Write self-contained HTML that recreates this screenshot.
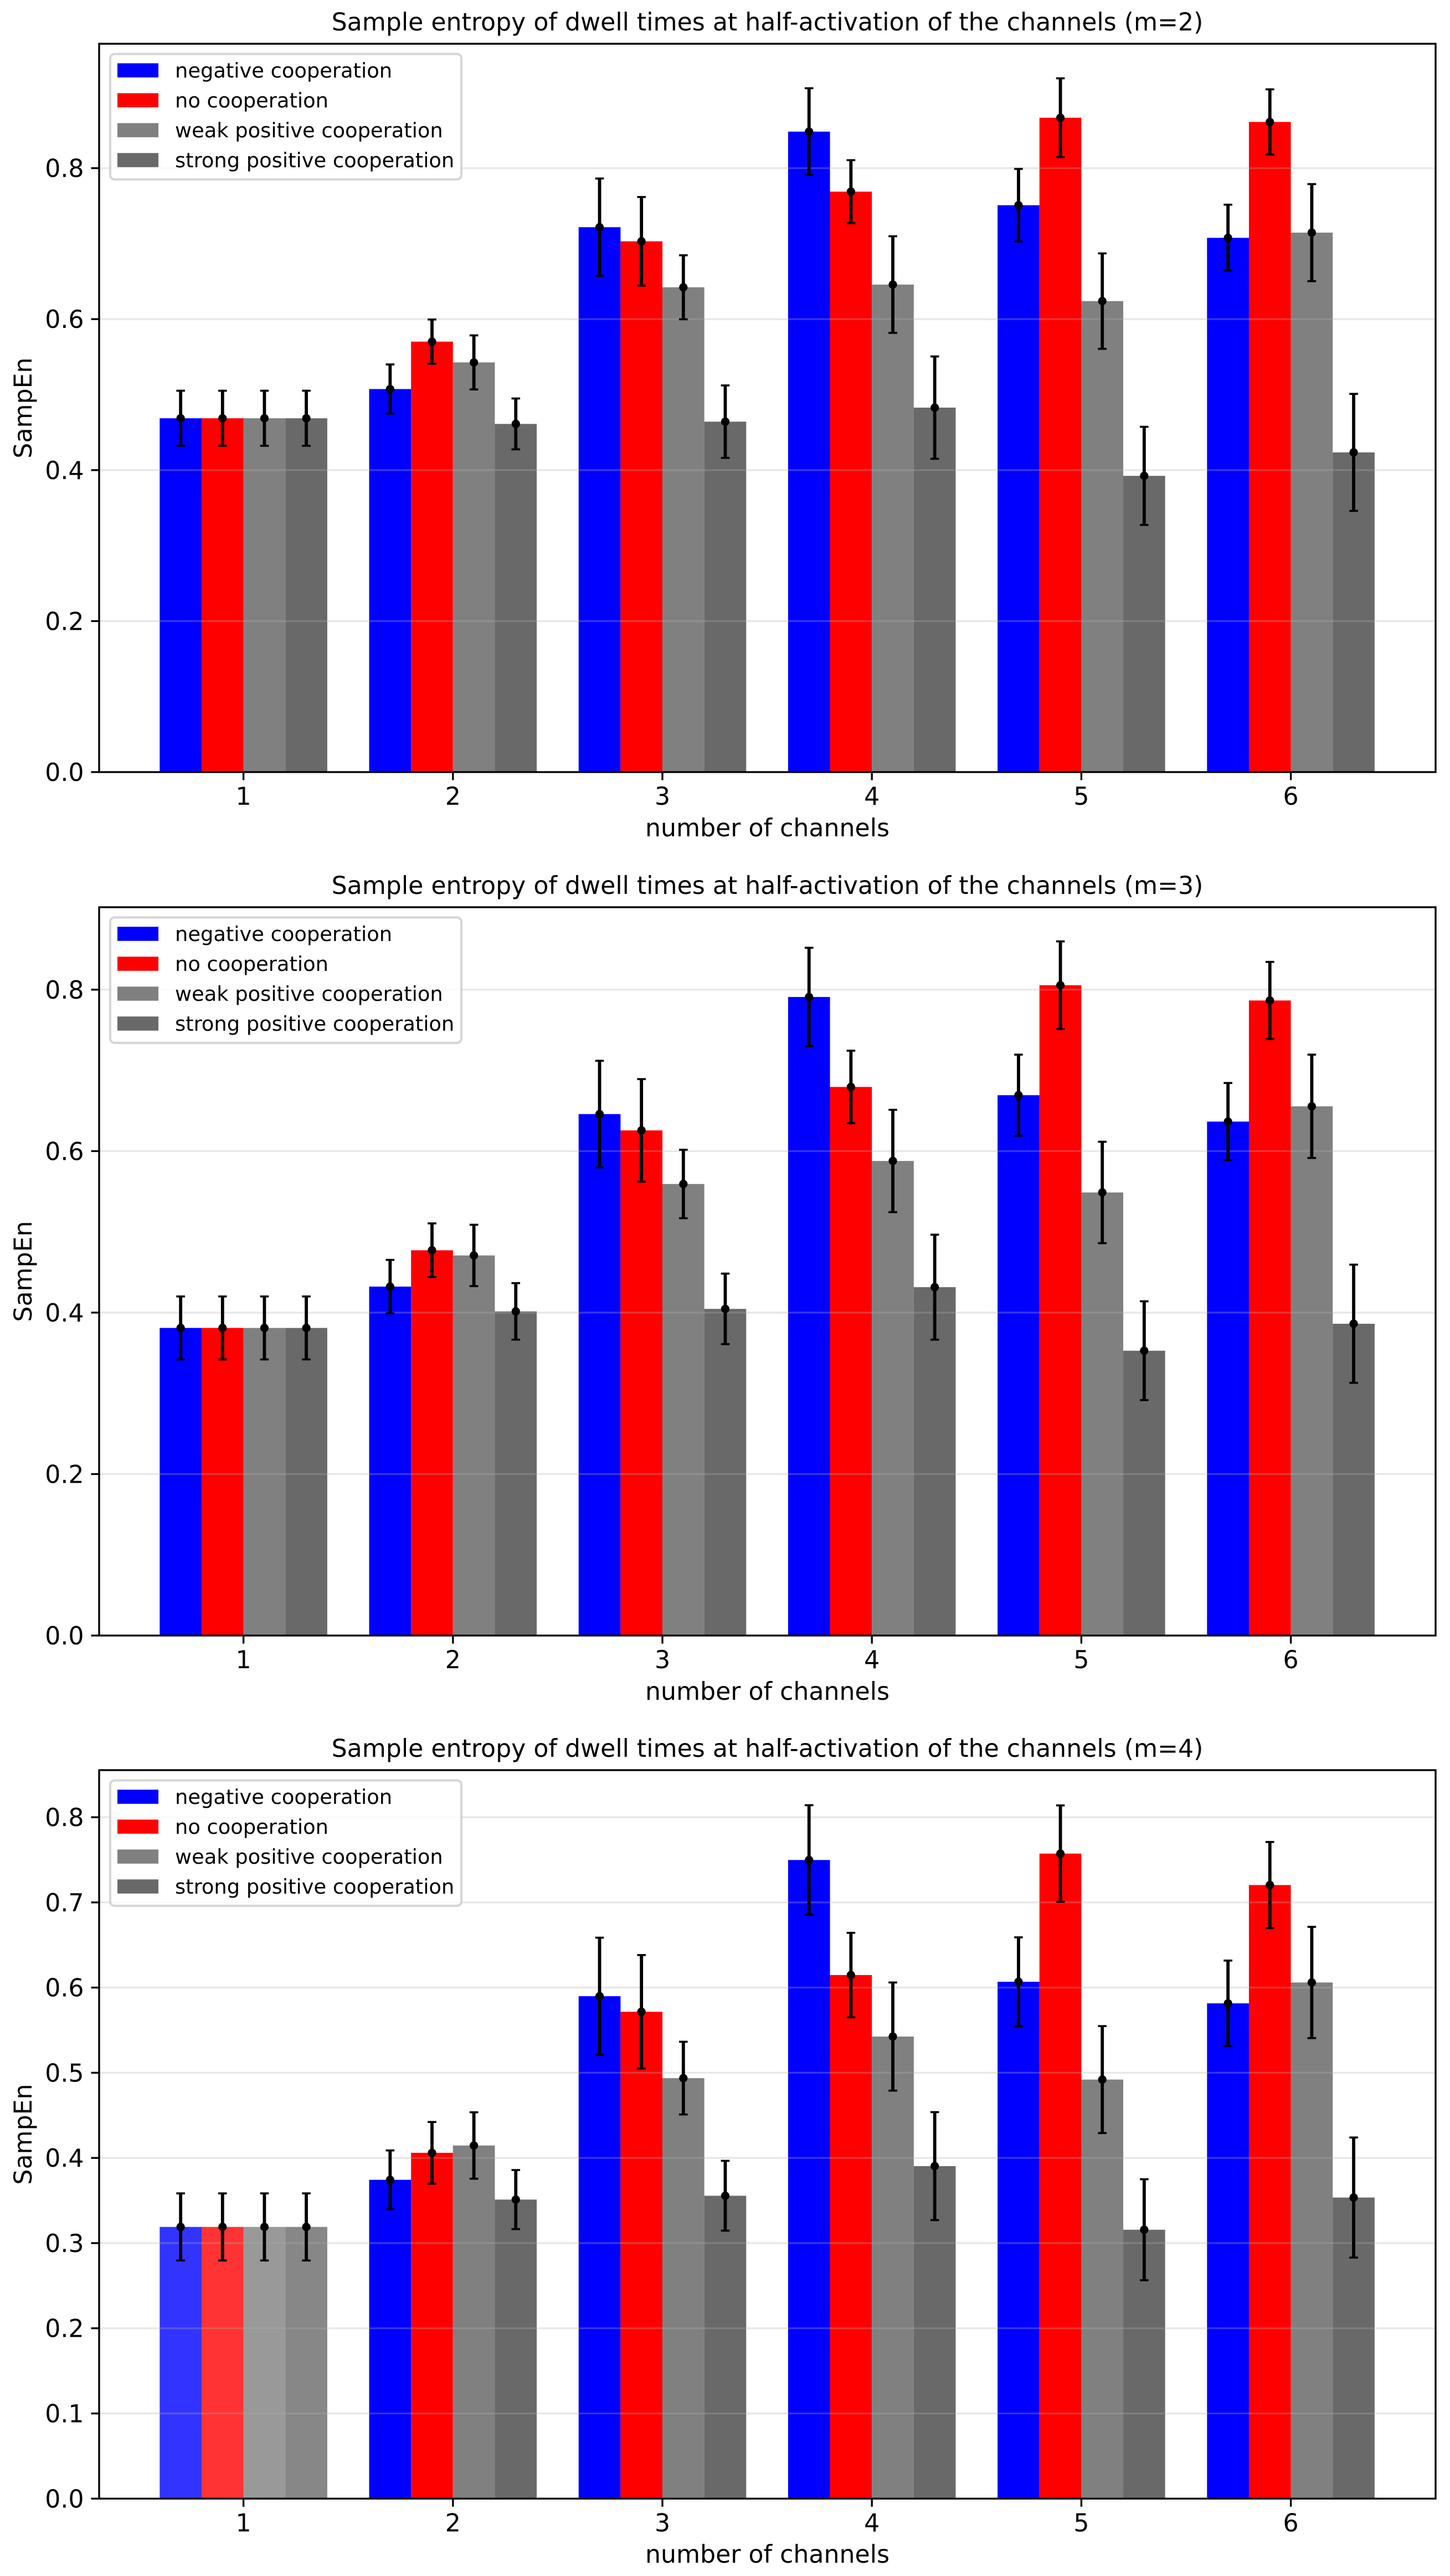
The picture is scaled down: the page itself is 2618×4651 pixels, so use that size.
<!DOCTYPE html>
<html lang="en">
<head>
<meta charset="utf-8">
<title>Sample entropy of dwell times at half-activation of the channels</title>
<style>
html,body{margin:0;padding:0;background:#fff;}
svg{display:block;}
text{font-family:"DejaVu Sans","Liberation Sans",sans-serif;fill:#000;}
.t{font-size:44.2px;}
.l{font-size:36.8px;}
</style>
</head>
<body>
<svg xmlns="http://www.w3.org/2000/svg" width="2618" height="4651" viewBox="0 0 2618 4651">
<rect x="0" y="0" width="2618" height="4651" fill="#fff"/>

<!-- PANEL m=2 -->
<g>
  <g id="marks-m2"></g>
  <rect x="179" y="79" width="2413" height="1315" fill="none" stroke="#000" stroke-width="3.33"/>
  <text class="t" x="1385.5" y="55" text-anchor="middle">Sample entropy of dwell times at half-activation of the channels (m=2)</text>
  <text class="t" x="1385.5" y="1510" text-anchor="middle">number of channels</text>
  <text class="t" transform="translate(57,736.5) rotate(-90)" text-anchor="middle">SampEn</text>
  <g transform="translate(0,79)">
    <rect x="199" y="18.4" width="634" height="226.6" rx="8" fill="#fff" fill-opacity="0.8" stroke="#ccc" stroke-opacity="0.8" stroke-width="4.17"/>
    <rect x="212" y="35.3" width="74" height="25.5" fill="#0000ff"/>
    <text class="l" x="316" y="60.8">negative cooperation</text>
    <rect x="212" y="89.3" width="74" height="25.5" fill="#ff0000"/>
    <text class="l" x="316" y="114.8">no cooperation</text>
    <rect x="212" y="143.3" width="74" height="25.5" fill="#808080"/>
    <text class="l" x="316" y="168.8">weak positive cooperation</text>
    <rect x="212" y="197.3" width="74" height="25.5" fill="#696969"/>
    <text class="l" x="316" y="222.8">strong positive cooperation</text>
  </g>
</g>

<!-- PANEL m=3 -->
<g>
  <g id="marks-m3"></g>
  <rect x="179" y="1638" width="2413" height="1315" fill="none" stroke="#000" stroke-width="3.33"/>
  <text class="t" x="1385.5" y="1614" text-anchor="middle">Sample entropy of dwell times at half-activation of the channels (m=3)</text>
  <text class="t" x="1385.5" y="3069" text-anchor="middle">number of channels</text>
  <text class="t" transform="translate(57,2295.5) rotate(-90)" text-anchor="middle">SampEn</text>
  <g transform="translate(0,1638)">
    <rect x="199" y="18.4" width="634" height="226.6" rx="8" fill="#fff" fill-opacity="0.8" stroke="#ccc" stroke-opacity="0.8" stroke-width="4.17"/>
    <rect x="212" y="35.3" width="74" height="25.5" fill="#0000ff"/>
    <text class="l" x="316" y="60.8">negative cooperation</text>
    <rect x="212" y="89.3" width="74" height="25.5" fill="#ff0000"/>
    <text class="l" x="316" y="114.8">no cooperation</text>
    <rect x="212" y="143.3" width="74" height="25.5" fill="#808080"/>
    <text class="l" x="316" y="168.8">weak positive cooperation</text>
    <rect x="212" y="197.3" width="74" height="25.5" fill="#696969"/>
    <text class="l" x="316" y="222.8">strong positive cooperation</text>
  </g>
</g>

<!-- PANEL m=4 -->
<g>
  <g id="marks-m4"></g>
  <rect x="179" y="3196" width="2413" height="1315.3" fill="none" stroke="#000" stroke-width="3.33"/>
  <text class="t" x="1385.5" y="3172" text-anchor="middle">Sample entropy of dwell times at half-activation of the channels (m=4)</text>
  <text class="t" x="1385.5" y="4627" text-anchor="middle">number of channels</text>
  <text class="t" transform="translate(57,3853.5) rotate(-90)" text-anchor="middle">SampEn</text>
  <g transform="translate(0,3196)">
    <rect x="199" y="18.4" width="634" height="226.6" rx="8" fill="#fff" fill-opacity="0.8" stroke="#ccc" stroke-opacity="0.8" stroke-width="4.17"/>
    <rect x="212" y="35.3" width="74" height="25.5" fill="#0000ff"/>
    <text class="l" x="316" y="60.8">negative cooperation</text>
    <rect x="212" y="89.3" width="74" height="25.5" fill="#ff0000"/>
    <text class="l" x="316" y="114.8">no cooperation</text>
    <rect x="212" y="143.3" width="74" height="25.5" fill="#808080"/>
    <text class="l" x="316" y="168.8">weak positive cooperation</text>
    <rect x="212" y="197.3" width="74" height="25.5" fill="#696969"/>
    <text class="l" x="316" y="222.8">strong positive cooperation</text>
  </g>
</g>
</svg>

<script>
// ---------- data ----------
var categories = [1, 2, 3, 4, 5, 6];
var seriesKeys = ['negative', 'none', 'weak', 'strong'];

var m2Negative    = [0.4687, 0.5074, 0.7218, 0.8484, 0.7509, 0.7077];
var m2None        = [0.4687, 0.5702, 0.7031, 0.7689, 0.8668, 0.8612];
var m2Weak        = [0.4687, 0.5427, 0.6422, 0.6458, 0.6239, 0.7146];
var m2Strong      = [0.4687, 0.4612, 0.4642, 0.4828, 0.3924, 0.4235];
var m2NegativeErr = [0.0365, 0.0326, 0.0645, 0.0575, 0.0481, 0.0439];
var m2NoneErr     = [0.0365, 0.0293, 0.0587, 0.0417, 0.0522, 0.0432];
var m2WeakErr     = [0.0365, 0.0358, 0.0424, 0.0640, 0.0632, 0.0643];
var m2StrongErr   = [0.0365, 0.0337, 0.0480, 0.0678, 0.0650, 0.0775];
var m2TickValues  = [0, 0.2, 0.4, 0.6, 0.8];
var m2TickLabels  = ['0.0', '0.2', '0.4', '0.6', '0.8'];

var m3Negative    = [0.3810, 0.4322, 0.6459, 0.7909, 0.6693, 0.6366];
var m3None        = [0.3810, 0.4772, 0.6257, 0.6795, 0.8055, 0.7866];
var m3Weak        = [0.3810, 0.4708, 0.5593, 0.5878, 0.5488, 0.6555];
var m3Strong      = [0.3810, 0.4015, 0.4046, 0.4315, 0.3528, 0.3862];
var m3NegativeErr = [0.0390, 0.0331, 0.0660, 0.0610, 0.0502, 0.0478];
var m3NoneErr     = [0.0390, 0.0333, 0.0635, 0.0449, 0.0543, 0.0478];
var m3WeakErr     = [0.0390, 0.0380, 0.0424, 0.0634, 0.0628, 0.0640];
var m3StrongErr   = [0.0390, 0.0350, 0.0437, 0.0650, 0.0612, 0.0732];
var m3TickValues  = [0, 0.2, 0.4, 0.6, 0.8];
var m3TickLabels  = ['0.0', '0.2', '0.4', '0.6', '0.8'];

var m4Negative    = [0.3190, 0.3743, 0.5899, 0.7498, 0.6068, 0.5815];
var m4None        = [0.3190, 0.4060, 0.5716, 0.6147, 0.7573, 0.7204];
var m4Weak        = [0.3190, 0.4146, 0.4937, 0.5425, 0.4920, 0.6060];
var m4Strong      = [0.3190, 0.3511, 0.3556, 0.3904, 0.3157, 0.3535];
var m4NegativeErr = [0.0394, 0.0345, 0.0687, 0.0643, 0.0522, 0.0502];
var m4NoneErr     = [0.0394, 0.0362, 0.0666, 0.0496, 0.0566, 0.0506];
var m4WeakErr     = [0.0394, 0.0390, 0.0427, 0.0635, 0.0628, 0.0653];
var m4StrongErr   = [0.0394, 0.0347, 0.0410, 0.0634, 0.0593, 0.0705];
var m4TickValues  = [0, 0.1, 0.2, 0.3, 0.4, 0.5, 0.6, 0.7, 0.8];
var m4TickLabels  = ['0.0', '0.1', '0.2', '0.3', '0.4', '0.5', '0.6', '0.7', '0.8'];

// ---------- drawing ----------
var seriesColors = ['#0000ff', '#ff0000', '#808080', '#696969'];
var NS = 'http://www.w3.org/2000/svg';
var BAR_WIDTH = 0.2;

function make(tag, attrs, parent) {
  var node = document.createElementNS(NS, tag);
  for (var k in attrs) node.setAttribute(k, attrs[k]);
  parent.appendChild(node);
  return node;
}

function xScale(d) {
  return 439.6 + (d - 1) * 378.2;
}

function drawChart(cfg) {
  var root = document.getElementById(cfg.id);
  function yScale(v) {
    return cfg.bottom - (v / cfg.yMax) * (cfg.bottom - cfg.top);
  }
  var el;

  // bars
  cfg.values.forEach(function (vals, s) {
    vals.forEach(function (v, c) {
      var xc = categories[c] + (s - 1.5) * BAR_WIDTH;
      var x0 = xScale(xc - BAR_WIDTH / 2);
      var x1 = xScale(xc + BAR_WIDTH / 2);
      el = make('rect', {
        x: x0, y: yScale(v), width: x1 - x0, height: cfg.bottom - yScale(v),
        fill: seriesColors[s],
        'fill-opacity': categories[c] === cfg.fadedCategory ? 0.8 : 1
      }, root);
      
      
    });
  });

  // horizontal grid, y ticks and labels
  cfg.tickValues.forEach(function (t, i) {
    var y = yScale(t);
    el = make('line', {
      x1: 179, x2: 2592, y1: y, y2: y,
      stroke: '#b0b0b0', 'stroke-opacity': 0.3, 'stroke-width': 3.33
    }, root);
    
    

    el = make('line', {
      x1: 164.5, x2: 179, y1: y, y2: y, stroke: '#000', 'stroke-width': 3.33
    }, root);
    
    

    el = make('text', { x: 151.5, y: y + 16, 'text-anchor': 'end', class: 't' }, root);
    el.textContent = cfg.tickLabels[i];
    
    
  });

  // x ticks and labels
  categories.forEach(function (c) {
    var x = xScale(c);
    el = make('line', {
      x1: x, x2: x, y1: cfg.bottom, y2: cfg.bottom + 14.6, stroke: '#000', 'stroke-width': 3.33
    }, root);
    
    

    el = make('text', { x: x, y: cfg.bottom + 59, 'text-anchor': 'middle', class: 't' }, root);
    el.textContent = String(c);
    
    
  });

  // error bars and markers
  cfg.values.forEach(function (vals, s) {
    vals.forEach(function (v, c) {
      var x = xScale(categories[c] + (s - 1.5) * BAR_WIDTH);
      var err = cfg.errors[s][c];
      var yHi = yScale(v + err);
      var yLo = yScale(v - err);

      el = make('line', { x1: x, x2: x, y1: yHi, y2: yLo, stroke: '#000', 'stroke-width': 5.8 }, root);
      
      

      el = make('line', { x1: x - 7.8, x2: x + 7.8, y1: yHi, y2: yHi, stroke: '#000', 'stroke-width': 3.6 }, root);
      
      

      el = make('line', { x1: x - 7.8, x2: x + 7.8, y1: yLo, y2: yLo, stroke: '#000', 'stroke-width': 3.6 }, root);
      
      

      el = make('circle', { cx: x, cy: yScale(v), r: 7.6, fill: '#000' }, root);
      
      
    });
  });
}

drawChart({
  id: 'marks-m2', top: 79, bottom: 1394, yMax: 0.9648, fadedCategory: null,
  values: [m2Negative, m2None, m2Weak, m2Strong],
  errors: [m2NegativeErr, m2NoneErr, m2WeakErr, m2StrongErr],
  tickValues: m2TickValues, tickLabels: m2TickLabels
});
drawChart({
  id: 'marks-m3', top: 1638, bottom: 2953, yMax: 0.9021, fadedCategory: null,
  values: [m3Negative, m3None, m3Weak, m3Strong],
  errors: [m3NegativeErr, m3NoneErr, m3WeakErr, m3StrongErr],
  tickValues: m3TickValues, tickLabels: m3TickLabels
});
drawChart({
  id: 'marks-m4', top: 3196, bottom: 4511.3, yMax: 0.8553, fadedCategory: 1,
  values: [m4Negative, m4None, m4Weak, m4Strong],
  errors: [m4NegativeErr, m4NoneErr, m4WeakErr, m4StrongErr],
  tickValues: m4TickValues, tickLabels: m4TickLabels
});
</script>
</body>
</html>
